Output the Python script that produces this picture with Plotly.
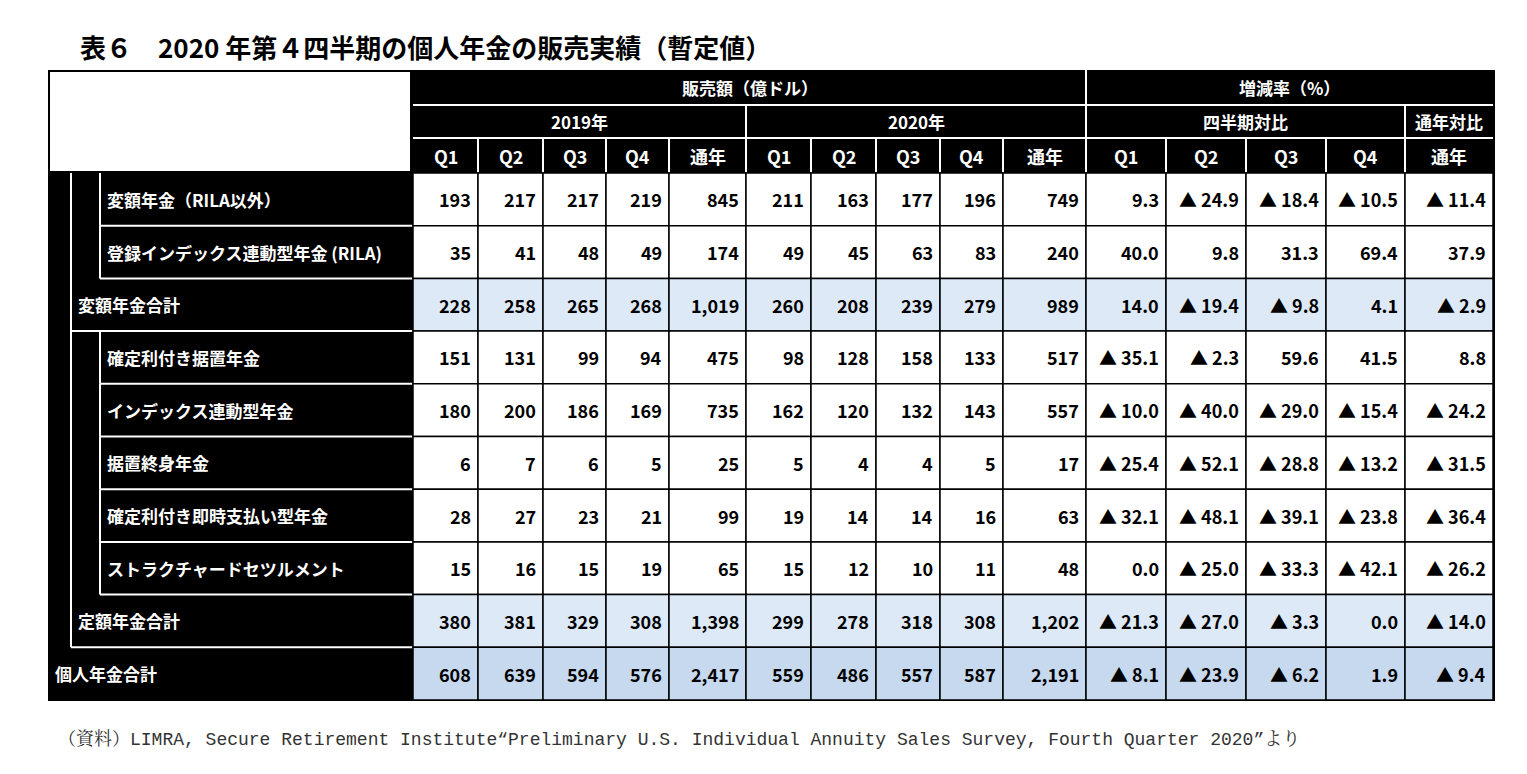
import plotly.graph_objects as go

# ---- data ----
row_labels = ["変額年金（RILA以外）", "登録インデックス連動型年金 (RILA)", "変額年金合計",
              "確定利付き据置年金", "インデックス連動型年金", "据置終身年金",
              "確定利付き即時支払い型年金", "ストラクチャードセツルメント", "定額年金合計", "個人年金合計"]
row_level = [2, 2, 1, 2, 2, 2, 2, 2, 1, 0]
sales_2019 = [[193, 217, 217, 219, 845], [35, 41, 48, 49, 174], [228, 258, 265, 268, 1019],
              [151, 131, 99, 94, 475], [180, 200, 186, 169, 735], [6, 7, 6, 5, 25],
              [28, 27, 23, 21, 99], [15, 16, 15, 19, 65], [380, 381, 329, 308, 1398],
              [608, 639, 594, 576, 2417]]
sales_2020 = [[211, 163, 177, 196, 749], [49, 45, 63, 83, 240], [260, 208, 239, 279, 989],
              [98, 128, 158, 133, 517], [162, 120, 132, 143, 557], [5, 4, 4, 5, 17],
              [19, 14, 14, 16, 63], [15, 12, 10, 11, 48], [299, 278, 318, 308, 1202],
              [559, 486, 557, 587, 2191]]
growth = [[9.3, -24.9, -18.4, -10.5, -11.4], [40.0, 9.8, 31.3, 69.4, 37.9],
          [14.0, -19.4, -9.8, 4.1, -2.9], [-35.1, -2.3, 59.6, 41.5, 8.8],
          [-10.0, -40.0, -29.0, -15.4, -24.2], [-25.4, -52.1, -28.8, -13.2, -31.5],
          [-32.1, -48.1, -39.1, -23.8, -36.4], [0.0, -25.0, -33.3, -42.1, -26.2],
          [-21.3, -27.0, -3.3, 0.0, -14.0], [-8.1, -23.9, -6.2, 1.9, -9.4]]
col_labels = ["Q1", "Q2", "Q3", "Q4", "通年"] * 3

# ---- layout geometry (pixels) ----
col_edges = [405, 470, 535, 598, 661, 738, 803, 868, 932, 995, 1078, 1158, 1238, 1318, 1397, 1485]
hdr_edges = [62, 97, 130, 165]
row_h = 52.7
row_edges = [165 + i * row_h for i in range(len(row_labels) + 1)]
indent = {0: 40, 1: 63, 2: 92}
fills = {2: "white", 1: "#dde9f6", 0: "#c6d9ee"}
FONT = "Noto Sans CJK JP"

shapes, ann = [], []
top, bot = hdr_edges[0], row_edges[-1]
shapes.append(dict(type="rect", x0=40, x1=1487, y0=top, y1=bot + 1, fillcolor="black", line_width=0, layer="below"))
shapes.append(dict(type="rect", x0=42, x1=402, y0=top + 2, y1=hdr_edges[-1] - 2, fillcolor="white", line_width=0))

def wline(x0, y0, x1, y1, w=2):
    shapes.append(dict(type="line", x0=x0, y0=y0, x1=x1, y1=y1, line=dict(color="white", width=w)))

def txt(x, y, s, anchor="center", color="white", size=18):
    ann.append(dict(x=x, y=y, text="<b>" + s + "</b>", showarrow=False, xanchor=anchor,
                    font=dict(family=FONT, size=size, color=color)))

# header
wline(col_edges[0], hdr_edges[1], col_edges[-1], hdr_edges[1])
wline(col_edges[0], hdr_edges[2], col_edges[-1], hdr_edges[2])
wline(col_edges[10], hdr_edges[0], col_edges[10], hdr_edges[3])
wline(col_edges[5], hdr_edges[1], col_edges[5], hdr_edges[3])
wline(col_edges[14], hdr_edges[1], col_edges[14], hdr_edges[3])
for e in col_edges[1:-1]:
    wline(e, hdr_edges[2], e, hdr_edges[3])
mid = lambda a, b: (a + b) / 2
txt(mid(col_edges[0], col_edges[10]), mid(hdr_edges[0], hdr_edges[1]), "販売額（億ドル）", size=17)
txt(mid(col_edges[10], col_edges[15]), mid(hdr_edges[0], hdr_edges[1]), "増減率（%）", size=17)
txt(mid(col_edges[0], col_edges[5]), mid(hdr_edges[1], hdr_edges[2]), "2019年", size=17)
txt(mid(col_edges[5], col_edges[10]), mid(hdr_edges[1], hdr_edges[2]), "2020年", size=17)
txt(mid(col_edges[10], col_edges[14]), mid(hdr_edges[1], hdr_edges[2]), "四半期対比", size=17)
txt(mid(col_edges[14], col_edges[15]), mid(hdr_edges[1], hdr_edges[2]), "通年対比", size=17)
for i, c in enumerate(col_labels):
    txt(mid(col_edges[i], col_edges[i + 1]), mid(hdr_edges[2], hdr_edges[3]), c)

# row label borders
wline(indent[1], row_edges[0], indent[1], row_edges[9])
wline(indent[1], row_edges[3], 405, row_edges[3])
wline(indent[1], row_edges[9], 405, row_edges[9])
for r, lvl in enumerate(row_level):
    y0, y1 = row_edges[r], row_edges[r + 1]
    if lvl == 2:
        wline(indent[2], y0, indent[2], y1)
        wline(indent[2], y1, 405, y1)
    txt(indent[lvl] + 5, mid(y0, y1), row_labels[r], anchor="left", size=17)

def fmt_g(v):
    return ("▲ %.1f" % -v) if v < 0 else "%.1f" % v

for r in range(len(row_labels)):
    vals = ["{:,}".format(v) for v in sales_2019[r]] + ["{:,}".format(v) for v in sales_2020[r]] + [fmt_g(v) for v in growth[r]]
    y0, y1 = row_edges[r], row_edges[r + 1]
    for c, s in enumerate(vals):
        x0, x1 = col_edges[c], col_edges[c + 1]
        shapes.append(dict(type="rect", x0=x0, x1=x1, y0=y0, y1=y1, fillcolor=fills[row_level[r]],
                           line=dict(color="black", width=1.5)))
        txt(x1 - 5, mid(y0, y1), s, anchor="right", color="black", size=18)

# title & source
ann.append(dict(x=70, y=38, text="<b>表６　2020 年第４四半期の個人年金の販売実績（暫定値）</b>", showarrow=False,
                xanchor="left", font=dict(family=FONT, size=26, color="black")))
ann.append(dict(x=48, y=731, text="（資料）LIMRA, Secure Retirement Institute“Preliminary U.S. Individual Annuity Sales Survey, Fourth Quarter 2020”より",
                showarrow=False, xanchor="left", font=dict(family="Liberation Mono, Noto Serif CJK JP, serif", size=18, color="#333")))

fig = go.Figure()
fig.update_layout(width=1527, height=774, margin=dict(l=0, r=0, t=0, b=0), plot_bgcolor="white",
                  paper_bgcolor="white", shapes=shapes, annotations=ann, showlegend=False)
fig.update_xaxes(range=[0, 1527], visible=False, fixedrange=True)
fig.update_yaxes(range=[774, 0], visible=False, fixedrange=True)
fig.write_html("out.html")
